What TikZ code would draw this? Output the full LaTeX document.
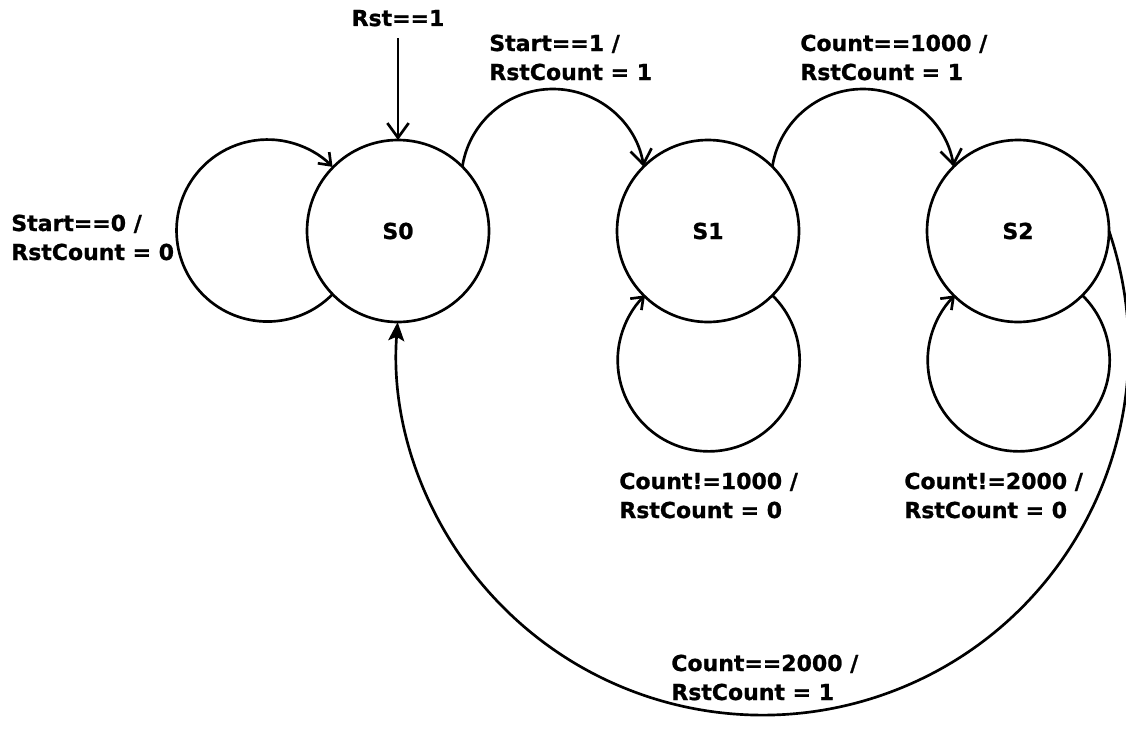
\documentclass[tikz,border=0pt]{standalone}
\usepackage{fontspec}
\setmainfont{DejaVu Sans}[BoldFeatures={FakeBold=1}]
\usetikzlibrary{arrows.meta}

\begin{document}
\begin{tikzpicture}[x=0.75pt,y=0.75pt,line width=2pt,
    state/.style={draw,circle,minimum size=136.5pt,inner sep=0pt,outer sep=0pt},
    cond/.style={font=\fontsize{16.5}{21.75}\selectfont\bfseries,align=left,inner sep=0pt},
    barb/.style={-{Straight Barb[length=11pt,width=16pt]}},
    loopbarb/.style={-{Straight Barb[length=8pt,width=12pt]}},
    solidtip/.style={-{Stealth[length=14pt,width=12pt,inset=3pt]}}]

    \useasboundingbox (0,0) rectangle (1126,-728);

    % States
    \node[state,label={[anchor=base,cond]center:S0}] (S0) at (398,-231) {};
    \node[state,label={[anchor=base,cond]center:S1}] (S1) at (708,-231) {};
    \node[state,label={[anchor=base,cond]center:S2}] (S2) at (1018,-231) {};

    % Reset
    \node[cond,anchor=base] (rst) at (398,-26) {Rst==1};
    \draw[barb,shorten <=8pt] (rst) -- (S0);

    % S0 stays
    \draw[loopbarb] (S0.224.4) arc[start angle=-44.4,end angle=-315.6,radius=68.25pt];
    \node[cond,anchor=base west] (c00) at (10,-260) {Start==0 /\\RstCount = 0};

    % S0 -> S1 and S1 -> S2
    \draw[barb] (S0.45) arc[start angle=171.16,end angle=8.84,radius=68.8pt];
    \node[cond,anchor=base west] (c01) at (488,-80) {Start==1 /\\RstCount = 1};
    \draw[barb] (S1.45) arc[start angle=171.16,end angle=8.84,radius=68.8pt];
    \node[cond,anchor=base west] (c12) at (799,-80) {Count==1000 /\\RstCount = 1};

    % S1 and S2 stay
    \draw[loopbarb] (S1.-45.6) arc[start angle=45.6,end angle=-225.6,radius=68.25pt];
    \node[cond,anchor=base west] (c11) at (618,-518) {Count!=1000 /\\RstCount = 0};
    \draw[loopbarb] (S2.-45.6) arc[start angle=45.6,end angle=-225.6,radius=68.25pt];
    \node[cond,anchor=base west] (c22) at (903,-518) {Count!=2000 /\\RstCount = 0};

    % S2 -> S0
    \draw[solidtip] (S2.east) arc[start angle=18.83,end angle=-184.23,radius=274.5pt];
    \node[cond,anchor=base west] (c20) at (670,-700) {Count==2000 /\\RstCount = 1};

\end{tikzpicture}
\end{document}
